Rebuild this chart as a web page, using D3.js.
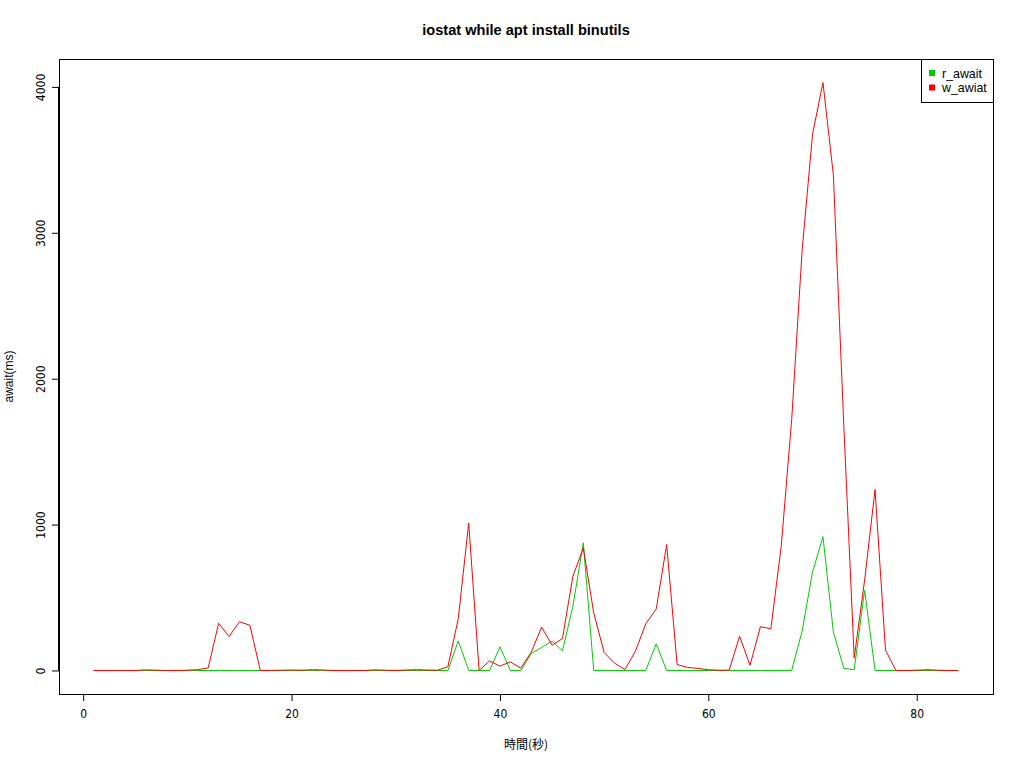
<!DOCTYPE html>
<html>
<head>
<meta charset="utf-8">
<script src="https://cdn.jsdelivr.net/npm/d3@7"></script>
<style>
  html, body { margin: 0; padding: 0; background: #fff; }
  svg { display: block; }
</style>
</head>
<body>
<svg id="chart" width="1024" height="768"></svg>
<script>
const titleText = "iostat while apt install binutils";
const xLabel = "時間(秒)";
const yLabel = "await(ms)";
const seriesNames = ["r_await", "w_awiat"];
const seriesColors = ["#00CD00", "#FF0000"];

const seconds = [1,2,3,4,5,6,7,8,9,10,11,12,13,14,15,16,17,18,19,20,
  21,22,23,24,25,26,27,28,29,30,31,32,33,34,35,36,37,38,39,40,
  41,42,43,44,45,46,47,48,49,50,51,52,53,54,55,56,57,58,59,60,
  61,62,63,64,65,66,67,68,69,70,71,72,73,74,75,76,77,78,79,80,
  81,82,83,84];

const r_await = [0,0,0,0,0,0,0,0,0,0,0,0,0,0,0,0,0,0,0,0,
  0,0,0,0,0,0,0,0,0,0,0,0,0,0,0,203,0,0,0,162,
  0,0,116,158,201,135,440,875,0,0,0,0,0,0,183,0,0,0,0,0,
  0,0,0,0,0,0,0,0,270,675,917,265,15,5,550,0,0,0,0,0,
  0,0,0,0];

const w_awiat = [0,0,0,0,0,4,2,0,0,2,5,18,324,233,334,310,0,0,2,3,
  2,5,3,0,0,0,0,4,2,0,3,5,3,2,25,355,1011,0,66,30,
  59,16,125,297,173,219,646,840,395,123,50,7,132,320,422,863,41,21,14,5,
  2,2,235,36,300,286,854,1720,2880,3675,4030,3397,1680,85,620,1240,140,0,0,2,
  5,2,0,0];

const xTicks = [0, 20, 40, 60, 80];
const yTicks = [0, 1000, 2000, 3000, 4000];

const svg = d3.select("#chart");
const plot = { left: 59, right: 993, top: 59, bottom: 694 };

function rRange(lo, hi) { const d = (hi - lo) * 0.04; return [lo - d, hi + d]; }
const xExt = d3.extent(seconds);
const yMax = d3.max([d3.max(r_await), d3.max(w_awiat)]);
const yMin = d3.min([d3.min(r_await), d3.min(w_awiat)]);

const x = d3.scaleLinear().domain(rRange(xExt[0], xExt[1])).range([plot.left, plot.right]);
const y = d3.scaleLinear().domain(rRange(yMin, yMax)).range([plot.bottom, plot.top]);

const tickFont = "'Liberation Sans Narrow', 'DejaVu Sans Condensed', 'Liberation Sans', sans-serif";
const mainFont = "'Liberation Sans', Arial, sans-serif";

// Title
svg.append("text")
  .attr("x", (plot.left + plot.right) / 2).attr("y", 35)
  .attr("text-anchor", "middle")
  .attr("font-family", mainFont).attr("font-weight", "bold").attr("font-size", 14.6)
  .text(titleText);

// X axis
const xAxis = d3.axisBottom(x).tickValues(xTicks).tickSize(7).tickPadding(8).tickFormat(d3.format("d"));
const gx = svg.append("g").attr("transform", `translate(0,${plot.bottom})`).call(xAxis);
gx.select(".domain").attr("d", `M${x(xTicks[0])},0.5H${x(xTicks[xTicks.length-1])}`).attr("stroke", "#000");
gx.selectAll(".tick line").attr("stroke", "#000");
gx.selectAll(".tick text").attr("font-family", tickFont).attr("font-size", 12).attr("fill", "#000");

// Y axis
const yAxis = d3.axisLeft(y).tickValues(yTicks).tickSize(7).tickFormat(d3.format("d"));
const gy = svg.append("g").attr("transform", `translate(${plot.left},0)`).call(yAxis);
gy.select(".domain").attr("d", `M-0.5,${y(yTicks[0])}V${y(yTicks[yTicks.length-1])}`).attr("stroke", "#000");
gy.selectAll(".tick line").attr("stroke", "#000");
gy.selectAll(".tick text")
  .attr("font-family", tickFont).attr("font-size", 12).attr("fill", "#000")
  .attr("x", null).attr("dy", null)
  .attr("text-anchor", "middle")
  .attr("transform", "translate(-18,0) rotate(-90)")
  .attr("dy", "0.35em");

// Axis labels
svg.append("text")
  .attr("x", (plot.left + plot.right) / 2).attr("y", 749)
  .attr("text-anchor", "middle")
  .attr("font-family", "'Noto Sans CJK JP', " + mainFont).attr("font-size", 12)
  .text(xLabel);
svg.append("text")
  .attr("transform", `translate(13,${(plot.top + plot.bottom) / 2}) rotate(-90)`)
  .attr("text-anchor", "middle")
  .attr("font-family", mainFont).attr("font-size", 12)
  .text(yLabel);

// Lines
const line = d3.line().x((d, i) => x(seconds[i])).y(d => y(d));
[r_await, w_awiat].forEach((data, k) => {
  svg.append("path").datum(data)
    .attr("fill", "none").attr("stroke", seriesColors[k]).attr("stroke-width", 1)
    .attr("d", line);
});

// Plot box
svg.append("rect")
  .attr("x", plot.left + 0.5).attr("y", plot.top + 0.5)
  .attr("width", plot.right - plot.left).attr("height", plot.bottom - plot.top)
  .attr("fill", "none").attr("stroke", "#000");

// Legend
const lg = svg.append("g");
const lw = 72, lh = 43;
lg.append("rect")
  .attr("x", plot.right - lw + 0.5).attr("y", plot.top + 0.5)
  .attr("width", lw).attr("height", lh)
  .attr("fill", "#fff").attr("stroke", "#000");
seriesNames.forEach((name, i) => {
  const cy = plot.top + 14 + i * 14.5;
  lg.append("rect").attr("x", plot.right - lw + 8).attr("y", cy - 3)
    .attr("width", 6).attr("height", 6).attr("fill", seriesColors[i]);
  lg.append("text").attr("x", plot.right - lw + 21).attr("y", cy + 4.5)
    .attr("font-family", mainFont).attr("font-size", 12.4).attr("fill", "#000")
    .text(name);
});
</script>
</body>
</html>
